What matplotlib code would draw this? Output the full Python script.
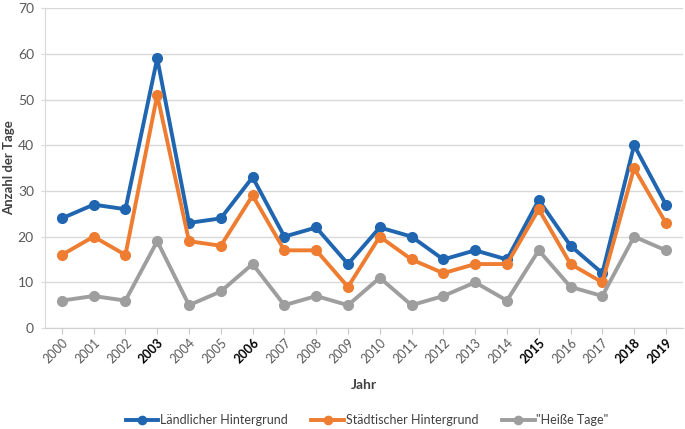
import matplotlib
matplotlib.use("Agg")
import matplotlib.pyplot as plt

years = [str(y) for y in range(2000, 2020)]
bold_years = ["2003", "2006", "2015", "2018", "2019"]
laendlich = [24, 27, 26, 59, 23, 24, 33, 20, 22, 14, 22, 20, 15, 17, 15, 28, 18, 12, 40, 27]
staedtisch = [16, 20, 16, 51, 19, 18, 29, 17, 17, 9, 20, 15, 12, 14, 14, 26, 14, 10, 35, 23]
heisse = [6, 7, 6, 19, 5, 8, 14, 5, 7, 5, 11, 5, 7, 10, 6, 17, 9, 7, 20, 17]
series_names = ["Ländlicher Hintergrund", "Städtischer Hintergrund", "\"Heiße Tage\""]

plt.rcParams['font.family'] = ['Lato', 'DejaVu Sans']

fig = plt.figure(figsize=(6.85, 4.29), dpi=100)
ax = fig.add_axes([0.0657, 0.2354, 0.931, 0.7456])

x = list(range(len(years)))
colors = ["#1f65b0", "#ee7d31", "#9e9e9e"]
for vals, col, name in zip([laendlich, staedtisch, heisse], colors, series_names):
    ax.plot(x, vals, color=col, lw=2.8, marker='o', ms=7, label=name, zorder=3)

ax.set_xlim(-0.53, 19.53)
ax.set_ylim(0, 70)
ax.set_yticks(range(0, 71, 10))
ax.yaxis.grid(True, color="#d9d9d9", lw=1)
ax.set_axisbelow(True)
for s in ["top", "right"]:
    ax.spines[s].set_visible(False)
ax.spines["bottom"].set_color("#d0d0d0")
ax.spines["left"].set_color("#d9d9d9")
ax.tick_params(axis='y', length=3, color="#d9d9d9", labelsize=10, labelcolor="#595959", pad=5)
ax.tick_params(axis='x', length=4, color="#c8c8c8", labelsize=9, pad=2)
ax.set_xticks(x)
ax.set_xticklabels(years, rotation=45, ha='right', rotation_mode='anchor')
for lbl in ax.get_xticklabels():
    if lbl.get_text() in bold_years:
        lbl.set_fontweight('bold')
        lbl.set_color('black')
    else:
        lbl.set_color('#595959')

ax.set_ylabel("Anzahl der Tage", fontsize=9.5, fontweight='bold', color="#404040")
ax.yaxis.set_label_coords((15 - 45) / 638, 0.5)
ax.set_xlabel("Jahr", fontsize=10, fontweight='bold', color="#404040", labelpad=10)

fig.legend(loc='center', bbox_to_anchor=(0.536, 0.021), ncol=3, frameon=False,
           fontsize=9, handlelength=2.6, handletextpad=0.15, columnspacing=1.9,
           labelcolor="#404040", markerscale=0.85)

fig.savefig("out.png", dpi=100)
